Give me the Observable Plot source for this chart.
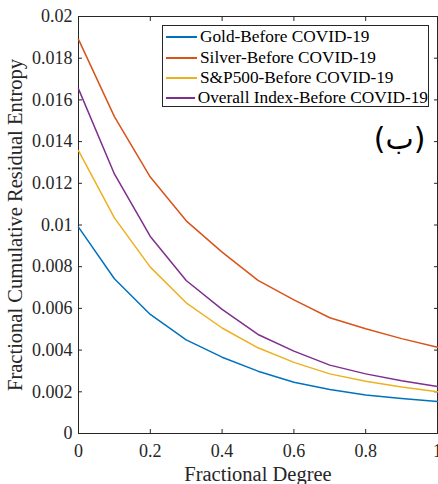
<!DOCTYPE html>
<html>
<head>
<meta charset="utf-8">
<script src="https://cdn.jsdelivr.net/npm/d3@7"></script>
<script src="https://cdn.jsdelivr.net/npm/@observablehq/plot@0.6"></script>
<style>
  html, body { margin: 0; padding: 0; background: #fff; }
  #wrap { position: relative; width: 438px; height: 484px; font-family: "Liberation Serif", "Times New Roman", serif; }
  #wrap svg text { font-family: "Liberation Serif", "Times New Roman", serif; }
  #wrap svg text.tag, #wrap svg .tag text { font-family: "DejaVu Sans", sans-serif; }
  #legend { position: absolute; left: 162px; top: 25px; width: 267px; height: 82px; border: 1px solid #262626; background: #fff; box-sizing: border-box; padding-top: 1px; }
  .row { display: flex; align-items: center; height: 20.4px; font-size: 17.3px; color: #000; white-space: nowrap; }
  .sw { width: 31px; height: 0; border-top: 2px solid; margin-left: 3px; margin-right: 3px; }
</style>
</head>
<body>
<div id="wrap"></div>
<script>
const degree = [0, 0.1, 0.2, 0.3, 0.4, 0.5, 0.6, 0.7, 0.8, 0.9, 1];
const gold    = [0.0099, 0.00742, 0.00571, 0.00449, 0.00366, 0.00299, 0.00246, 0.00211, 0.00185, 0.00168, 0.00153];
const silver  = [0.0189, 0.0152, 0.0123, 0.0102, 0.0087, 0.00734, 0.00641, 0.00555, 0.00502, 0.00455, 0.00414];
const sp500   = [0.01357, 0.01034, 0.00798, 0.00627, 0.00506, 0.00411, 0.00341, 0.00286, 0.00251, 0.00223, 0.00200];
const overall = [0.01653, 0.01245, 0.00945, 0.00734, 0.00595, 0.00475, 0.00395, 0.00328, 0.00286, 0.00253, 0.00225];
const seriesNames = ["Gold-Before COVID-19", "Silver-Before COVID-19", "S&P500-Before COVID-19", "Overall Index-Before COVID-19"];
const seriesColors = ["#0072BD", "#D95319", "#EDB120", "#7E2F8E"];
const xTicks = [0, 0.2, 0.4, 0.6, 0.8, 1];
const yTicks = [0, 0.002, 0.004, 0.006, 0.008, 0.01, 0.012, 0.014, 0.016, 0.018, 0.02];
const xLabel = "Fractional Degree";
const yLabel = "Fractional Cumulative Residual Entropy";
const panelTag = "(ب)";

const allSeries = [gold, silver, sp500, overall];
const rows = [];
allSeries.forEach((vals, i) => vals.forEach((v, j) => rows.push({series: seriesNames[i], x: degree[j], y: v})));

const ink = "#262626";
const serif = "Liberation Serif, Times New Roman, serif";
const fmt = d => String(+d.toFixed(3));

const chart = Plot.plot({
  width: 438,
  height: 484,
  marginLeft: 78,
  marginRight: 1,
  marginTop: 16,
  marginBottom: 51,
  style: {fontFamily: serif, fontSize: "18px", color: ink, background: "#fff"},
  x: {domain: [0, 1]},
  y: {domain: [0, 0.02]},
  color: {domain: seriesNames, range: seriesColors},
  marks: [
    Plot.frame({stroke: ink, strokeWidth: 1}),
    Plot.axisX({anchor: "bottom", ticks: xTicks, tickSize: -4, tickPadding: 15, tickFormat: fmt, label: null, fontSize: 18, fontFamily: serif, fontVariant: "normal", stroke: ink, color: ink}),
    Plot.axisX({anchor: "top", ticks: xTicks, tickSize: -4, tickFormat: () => "", label: null, stroke: ink}),
    Plot.axisY({anchor: "left", ticks: yTicks, tickSize: -4, tickPadding: 10, tickFormat: fmt, label: null, fontSize: 18, fontFamily: serif, fontVariant: "normal", stroke: ink, color: ink}),
    Plot.axisY({anchor: "right", ticks: yTicks, tickSize: -4, tickFormat: () => "", label: null, stroke: ink}),
    Plot.line(rows, {x: "x", y: "y", z: "series", stroke: "series", strokeWidth: 1.5}),
    Plot.text([xLabel], {frameAnchor: "bottom", textAnchor: "middle", lineAnchor: "top", dy: 33, fontSize: 20.5, fontFamily: serif, fill: ink}),
    Plot.text([yLabel], {frameAnchor: "left", textAnchor: "middle", rotate: -90, dx: -63, fontSize: 20.5, fontFamily: serif, fill: ink}),
    Plot.text([panelTag], {frameAnchor: "top-right", textAnchor: "end", lineAnchor: "middle", dx: -12, dy: 123, fontSize: 30, fill: "#000", fontFamily: "DejaVu Sans", className: "tag"})
  ]
});

const wrap = document.getElementById("wrap");
wrap.appendChild(chart);
const legend = document.createElement("div");
legend.id = "legend";
seriesNames.forEach((name, i) => {
  const r = document.createElement("div");
  r.className = "row";
  const s = document.createElement("div");
  s.className = "sw";
  s.style.borderTopColor = seriesColors[i];
  const t = document.createElement("span");
  t.textContent = name;
  r.appendChild(s); r.appendChild(t);
  legend.appendChild(r);
});
wrap.appendChild(legend);
</script>
</body>
</html>
